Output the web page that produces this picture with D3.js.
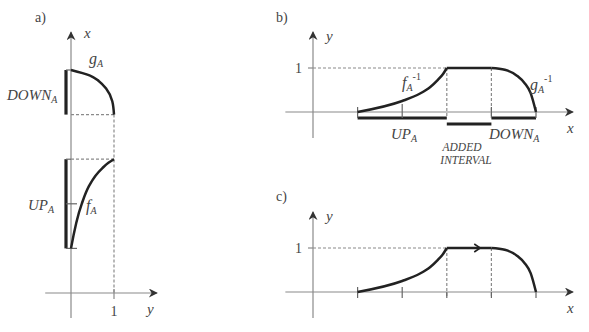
<!DOCTYPE html>
<html>
<head>
<meta charset="utf-8">
<script src="https://cdn.jsdelivr.net/npm/d3@7"></script>
<style>
  body { margin: 0; background: #fff; }
</style>
</head>
<body>
<div id="fig"></div>
<script>
// curve f_A (rising part) and g_A (falling part), x on the domain, y membership
const fX = [1, 2, 2.4, 2.63, 2.8, 2.92, 3];
const fY = [0, 0.25, 0.42, 0.57, 0.73, 0.87, 1];
const gX = [4, 4.3, 4.58, 4.75, 4.88, 5];
const gY = [1, 0.96, 0.82, 0.65, 0.43, 0];
// intervals on x
const upA = [1, 3];
const added = [3, 4];
const downA = [4, 5];
const xTicks = [1, 2, 3, 4, 5];

const fPts = fX.map((x, i) => ({ x, y: fY[i] }));
const gPts = gX.map((x, i) => ({ x, y: gY[i] }));

const W = 589, H = 332;
const textColor = "#444";
const svg = d3.select("#fig").append("svg")
  .attr("width", W).attr("height", H)
  .attr("font-family", "'Liberation Serif', serif");

svg.append("defs").append("marker")
  .attr("id", "arr")
  .attr("viewBox", "0 0 10 10")
  .attr("refX", 9).attr("refY", 5)
  .attr("markerWidth", 11).attr("markerHeight", 9)
  .attr("markerUnits", "userSpaceOnUse")
  .attr("orient", "auto")
  .append("path")
  .attr("d", "M0,0 L10,5 L0,10 L3,5 Z")
  .attr("fill", "#333");

const axisColor = "#8a8a8a";
const curveColor = "#222";

function line(g, x1, y1, x2, y2, opts = {}) {
  const l = g.append("line")
    .attr("x1", x1).attr("y1", y1).attr("x2", x2).attr("y2", y2)
    .attr("stroke", opts.color || axisColor)
    .attr("stroke-width", opts.width || 1.2);
  if (opts.dash) l.attr("stroke-dasharray", "3,2");
  if (opts.arrow) l.attr("marker-end", "url(#arr)");
  return l;
}

function label(g, x, y, main, sub, sup, size, anchor) {
  const t = g.append("text")
    .attr("x", x).attr("y", y)
    .attr("fill", textColor)
    .attr("font-size", size || 15)
    .attr("font-style", "italic")
    .attr("text-anchor", anchor || "start");
  t.append("tspan").text(main);
  if (sub) t.append("tspan").attr("font-size", 10).attr("dy", 3).text(sub);
  if (sup) t.append("tspan").attr("font-size", 10).attr("dy", -11).attr("font-style", "normal").text(sup);
  return t;
}

function plain(g, x, y, s, size, anchor) {
  return g.append("text").attr("x", x).attr("y", y)
    .attr("fill", textColor)
    .attr("font-size", size || 15)
    .attr("text-anchor", anchor || "start")
    .text(s);
}

function curve(g, gen, pts) {
  g.append("path").attr("d", gen(pts)).attr("fill", "none")
    .attr("stroke", curveColor).attr("stroke-width", 2.5);
}

// ---------- panel a: x vertical, y horizontal ----------
const ga = svg.append("g");
const xa = d3.scaleLinear().domain([0, 5]).range([293, 70]);
const ya = d3.scaleLinear().domain([0, 1]).range([71, 114]);

line(ga, ya(0), xa(-0.56), ya(0), xa(5.85), { arrow: true });
line(ga, ya(-0.6), xa(0), ya(2.0), xa(0), { arrow: true });
line(ga, ya(1), xa(0) - 4, ya(1), xa(0) + 6);

// dashed guides
line(ga, ya(0), xa(downA[0]), ya(1), xa(downA[0]), { dash: true });
line(ga, ya(0), xa(upA[1]), ya(1), xa(upA[1]), { dash: true });
line(ga, ya(1), xa(downA[0]), ya(1), xa(0), { dash: true });

// interval bars
const barXa = ya(0) - 5;
[downA, upA].forEach(iv => {
  line(ga, barXa, xa(iv[0]), barXa, xa(iv[1]), { color: curveColor, width: 3.2 });
});
[upA[0], 2, upA[1], downA[1]].forEach(v => {
  line(ga, barXa, xa(v), ya(0) + (v === 2 || v === upA[0] ? 6 : 0), xa(v), { color: "#666", width: 1.2 });
});

const lineA = d3.line().x(d => ya(d.y)).y(d => xa(d.x)).curve(d3.curveMonotoneY);
curve(ga, lineA, fPts);
curve(ga, lineA, gPts);

plain(ga, 35, 22, "a)", 14);
label(ga, 84, 38, "x");
label(ga, 89, 64, "g", "A", null, 16);
label(ga, 7, 100, "DOWN", "A");
label(ga, 28, 210, "UP", "A");
label(ga, 86, 211, "f", "A", null, 16);
plain(ga, ya(1), 316, "1", 14, "middle");
label(ga, 147, 314, "y");

// ---------- panels b and c: x horizontal ----------
const xb = d3.scaleLinear().domain([0, 5]).range([313, 536]);

function xyPanel(y0, tag, tagY) {
  const g = svg.append("g");
  const yb = d3.scaleLinear().domain([0, 1]).range([y0, y0 - 44]);
  line(g, xb(0), yb(-0.59), xb(0), yb(1.82), { arrow: true });
  line(g, xb(-0.62), yb(0), xb(5.83), yb(0), { arrow: true });
  line(g, xb(0) - 5, yb(1), xb(0), yb(1));
  line(g, xb(0), yb(1), xb(added[0]), yb(1), { dash: true });
  [added[0], added[1]].forEach(v => line(g, xb(v), yb(1), xb(v), yb(0) + 6, { dash: true }));
  plain(g, 276, tagY, tag, 14);
  label(g, 326, yb(1.62), "y");
  plain(g, 295, yb(1) + 5, "1", 14);
  label(g, 567, yb(0) + 21, "x");
  return { g, yb };
}

// panel b
const pb = xyPanel(112, "b)", 22);
{
  const { g, yb } = pb;
  const lb = d3.line().x(d => xb(d.x)).y(d => yb(d.y)).curve(d3.curveMonotoneX);
  [upA, downA].forEach(iv =>
    line(g, xb(iv[0]), yb(0) + 6, xb(iv[1]), yb(0) + 6, { color: curveColor, width: 3.2 }));
  line(g, xb(added[0]), yb(0) + 12, xb(added[1]), yb(0) + 12, { color: curveColor, width: 3.2 });
  [upA[0], 2, downA[0], downA[1]].forEach(v =>
    line(g, xb(v), yb(0) - (v === 2 ? 8 : 5), xb(v), yb(0) + 6, { color: "#666" }));
  line(g, xb(added[0]), yb(1), xb(added[1]), yb(1), { color: curveColor, width: 2.5 });
  curve(g, lb, fPts);
  curve(g, lb, gPts);
  label(g, 402, 88, "f", "A", "-1", 16);
  label(g, 530, 90, "g", "A", "-1", 16);
  label(g, 391, 139, "UP", "A");
  label(g, 489, 139, "DOWN", "A");
  label(g, 462, 151, "ADDED", null, null, 11.5, "middle");
  label(g, 466, 164, "INTERVAL", null, null, 11.5, "middle");
}

// panel c
const pc = xyPanel(292, "c)", 201);
{
  const { g, yb } = pc;
  const lc = d3.line().x(d => xb(d.x)).y(d => yb(d.y)).curve(d3.curveMonotoneX);
  xTicks.forEach(v => line(g, xb(v), yb(0) - (v < 3 ? 5 : 0), xb(v), yb(0) + 6, { color: "#666" }));
  curve(g, lc, fPts);
  curve(g, lc, gPts);
  line(g, xb(added[0]), yb(1), xb(added[1]), yb(1), { color: curveColor, width: 2.5 });
  // direction chevron on the added interval
  const cx = xb(added[0] + 0.75);
  g.append("path")
    .attr("d", `M${cx - 6},${yb(1) - 4} L${cx},${yb(1)} L${cx - 6},${yb(1) + 4}`)
    .attr("fill", "none").attr("stroke", curveColor).attr("stroke-width", 1.6);
}
</script>
</body>
</html>
